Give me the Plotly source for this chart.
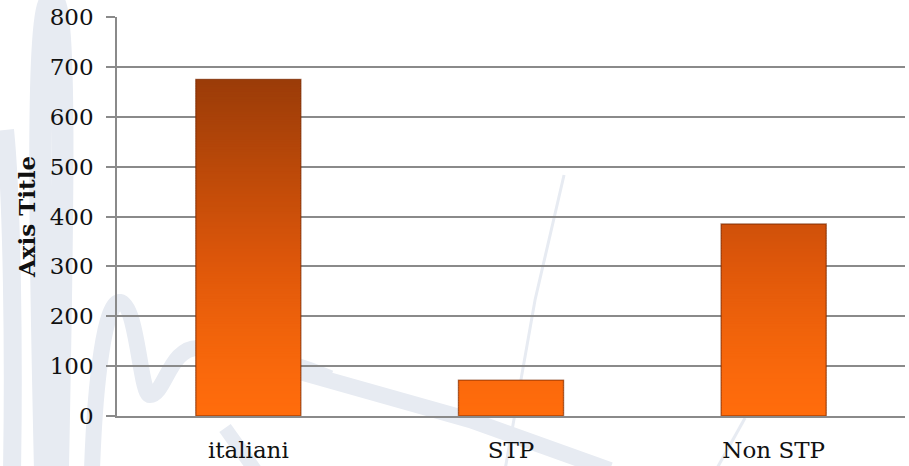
import plotly.graph_objects as go

# Chart data
categories = ["italiani", "STP", "Non STP"]
values = [675, 72, 385]
y_ticks = [0, 100, 200, 300, 400, 500, 600, 700, 800]

W, H = 909, 466
ML, MR, MT, MB = 117, 4, 17, 50
PW, PH = W - ML - MR, H - MT - MB

FONT = "DejaVu Serif"
GRID = "#8a8a8a"
TXT = "#111111"
FS = 23


def lerp(c1, c2, t):
    return tuple(round(a + (b - a) * t) for a, b in zip(c1, c2))


BRIGHT = (255, 108, 12)
MID = (220, 86, 10)
DARK = (150, 58, 8)


def grad_color(v):
    t = max(0.0, min(1.0, v / 700.0))
    if t < 0.45:
        c = lerp(BRIGHT, MID, (t / 0.45) ** 1.4)
    else:
        c = lerp(MID, DARK, (t - 0.45) / 0.55)
    return "rgb(%d,%d,%d)" % c


fig = go.Figure()

# Vertical gradient: stack thin slices, each level coloured by its height
step = 5
top = max(values)
level = 0
while level < top:
    ys = []
    for v in values:
        if v > level:
            ys.append(min(step * 1.6, v - level))
        else:
            ys.append(None)
    fig.add_trace(go.Bar(
        x=categories, y=ys, base=[level] * len(values),
        width=0.4, marker=dict(color=grad_color(level + step / 2), line=dict(width=0)),
        showlegend=False, hoverinfo="skip",
    ))
    level += step

# Bevel edge on each bar
fig.add_trace(go.Bar(
    x=categories, y=values, width=0.4,
    marker=dict(color="rgba(0,0,0,0)", line=dict(color="rgba(120,40,0,0.6)", width=1.4)),
    showlegend=False, hovertemplate="%{x}: %{y}<extra></extra>",
))


# Faint background swooshes (pixel coordinates converted to paper units)
def px_path(points):
    parts = []
    for i, (px, py) in enumerate(points):
        xp = (px - ML) / PW
        yp = (H - MB - py) / PH
        parts.append(("M" if i == 0 else "L") + " %.4f,%.4f" % (xp, yp))
    return " ".join(parts)


def px_curve(start, segs):
    def cv(p):
        return "%.4f,%.4f" % ((p[0] - ML) / PW, (H - MB - p[1]) / PH)
    s = "M " + cv(start)
    for c1, c2, end in segs:
        s += " C " + cv(c1) + " " + cv(c2) + " " + cv(end)
    return s


WM = "rgb(231,235,242)"
shapes = []
# tall loop on the left
shapes.append(dict(type="path", xref="paper", yref="paper", layer="below",
                   path=px_curve((45, 470), [((40, 250), (35, 0), (52, 0)),
                                             ((68, 0), (62, 250), (58, 470))]),
                   line=dict(color=WM, width=22)))
shapes.append(dict(type="path", xref="paper", yref="paper", layer="below",
                   path=px_curve((5, 130), [((12, 200), (14, 350), (12, 470))]),
                   line=dict(color=WM, width=18)))
# wave across the lower left
shapes.append(dict(type="path", xref="paper", yref="paper", layer="below",
                   path=px_curve((92, 470), [((95, 380), (105, 300), (120, 302)),
                                             ((138, 305), (140, 395), (150, 395)),
                                             ((165, 395), (170, 345), (200, 348)),
                                             ((260, 352), (300, 365), (330, 378))]),
                   line=dict(color=WM, width=16)))
# long diagonal band toward the bottom centre
shapes.append(dict(type="path", xref="paper", yref="paper", layer="below",
                   path=px_path([(300, 372), (470, 420), (610, 470)]),
                   line=dict(color=WM, width=16)))
shapes.append(dict(type="path", xref="paper", yref="paper", layer="below",
                   path=px_path([(225, 428), (255, 470)]),
                   line=dict(color=WM, width=14)))
# thin strokes
shapes.append(dict(type="path", xref="paper", yref="paper", layer="below",
                   path=px_path([(564, 175), (535, 300), (505, 470)]),
                   line=dict(color=WM, width=3)))
shapes.append(dict(type="path", xref="paper", yref="paper", layer="below",
                   path=px_path([(745, 418), (716, 470)]),
                   line=dict(color=WM, width=3)))

fig.update_layout(
    width=W, height=H,
    margin=dict(l=ML, r=MR, t=MT, b=MB, pad=0, autoexpand=False),
    paper_bgcolor="white", plot_bgcolor="rgba(0,0,0,0)",
    barmode="overlay", bargap=0.6,
    showlegend=False,
    shapes=shapes,
    font=dict(family=FONT, color=TXT, size=FS),
    xaxis=dict(
        type="category", categoryorder="array", categoryarray=categories,
        showgrid=False, showline=True, linecolor=GRID, linewidth=1.5,
        ticks="", tickfont=dict(family=FONT, size=FS, color=TXT),
        ticklabelstandoff=13, fixedrange=True, automargin=False,
    ),
    yaxis=dict(
        range=[0, 800], tickvals=y_ticks, ticktext=[str(t) for t in y_ticks],
        showgrid=True, gridcolor=GRID, gridwidth=1.5,
        showline=True, linecolor=GRID, linewidth=1.5,
        ticks="outside", ticklen=9, tickcolor=GRID, tickwidth=1.5,
        tickfont=dict(family=FONT, size=FS, color=TXT),
        ticklabelstandoff=8, zeroline=False, automargin=False,
        title=dict(text="<b>Axis Title</b>", font=dict(family=FONT, size=FS, color=TXT),
                   standoff=8),
        fixedrange=True,
    ),
)

fig.write_html("out.html")
